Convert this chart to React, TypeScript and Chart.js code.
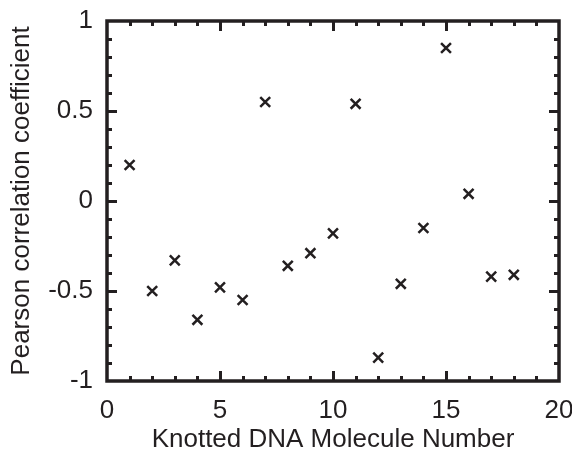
import React, { useEffect, useRef } from "react";
import { Chart, registerables } from "chart.js";

Chart.register(...registerables);

const moleculeNumbers = [1, 2, 3, 4, 5, 6, 7, 8, 9, 10, 11, 12, 13, 14, 15, 16, 17, 18];
const pearsonValues = [0.2, -0.5, -0.33, -0.66, -0.48, -0.55, 0.55, -0.36, -0.29, -0.18, 0.54, -0.87, -0.46, -0.15, 0.85, 0.04, -0.42, -0.41];

const xTitle = "Knotted DNA Molecule Number";
const yTitle = "Pearson correlation coefficient";
const xMinorStep = 1;
const xMajorStep = 5;
const yMinorStep = 0.1;
const yMajorStep = 0.5;

const FONT = "'Liberation Sans', Arial, Helvetica, sans-serif";
const INK = "#231f20";

const framePlugin = {
  id: "frameTicks",
  afterDraw(chart: any) {
    const { ctx, chartArea: a, scales } = chart;
    const xs = scales.x;
    const ys = scales.y;
    ctx.save();
    ctx.strokeStyle = INK;
    ctx.lineWidth = 3;
    ctx.lineCap = "butt";
    ctx.beginPath();
    const nx = Math.round((xs.max - xs.min) / xMinorStep);
    for (let i = 1; i < nx; i++) {
      const v = xs.min + i * xMinorStep;
      const px = Math.round(xs.getPixelForValue(v)) + 0.5;
      const major = Math.abs(v / xMajorStep - Math.round(v / xMajorStep)) < 1e-6;
      const len = major ? 10 : 5;
      ctx.moveTo(px, a.bottom);
      ctx.lineTo(px, a.bottom - len);
      ctx.moveTo(px, a.top);
      ctx.lineTo(px, a.top + len);
    }
    const ny = Math.round((ys.max - ys.min) / yMinorStep);
    for (let i = 1; i < ny; i++) {
      const v = ys.min + i * yMinorStep;
      const py = Math.round(ys.getPixelForValue(v)) + 0.5;
      const major = Math.abs(v / yMajorStep - Math.round(v / yMajorStep)) < 1e-6;
      const len = major ? 10 : 5;
      ctx.moveTo(a.left, py);
      ctx.lineTo(a.left + len, py);
      ctx.moveTo(a.right, py);
      ctx.lineTo(a.right - len, py);
    }
    ctx.stroke();
    ctx.lineWidth = 3.5;
    ctx.strokeRect(a.left, a.top, a.right - a.left, a.bottom - a.top);
    ctx.restore();
  },
};

export default function App() {
  const ref = useRef<HTMLCanvasElement>(null);
  useEffect(() => {
    document.body.style.margin = "0";
    const chart = new Chart(ref.current!, {
      type: "scatter",
      data: {
        datasets: [
          {
            data: moleculeNumbers.map((x, i) => ({ x, y: pearsonValues[i] })),
            pointStyle: "crossRot",
            radius: 7,
            borderWidth: 2.5,
            borderColor: INK,
            backgroundColor: INK,
          },
        ],
      },
      options: {
        responsive: false,
        animation: false,
        devicePixelRatio: 1,
        layout: { autoPadding: false, padding: { top: 21, right: 13, left: 0, bottom: 0 } },
        plugins: { legend: { display: false }, tooltip: { enabled: false } },
        scales: {
          x: {
            type: "linear",
            min: 0,
            max: 20,
            grid: { display: false, drawTicks: false },
            border: { display: false },
            ticks: { stepSize: 5, padding: 14, color: INK, font: { family: FONT, size: 26 } },
            title: { display: true, text: xTitle, color: INK, font: { family: FONT, size: 26 }, padding: { top: 2, bottom: 0 } },
            afterFit: (s: any) => { s.height = 74; s.paddingLeft = 0; s.paddingRight = 0; },
          },
          y: {
            type: "linear",
            min: -1,
            max: 1,
            grid: { display: false, drawTicks: false },
            border: { display: false },
            ticks: { stepSize: 0.5, padding: 14, color: INK, font: { family: FONT, size: 26 }, callback: (v: any) => String(v) },
            title: { display: true, text: yTitle, color: INK, font: { family: FONT, size: 26 }, padding: { top: 6, bottom: 4 } },
            afterFit: (s: any) => { s.width = 107; s.paddingTop = 0; s.paddingBottom = 0; },
          },
        },
      },
      plugins: [framePlugin],
    });
    return () => chart.destroy();
  }, []);
  return <canvas ref={ref} width={572} height={455} style={{ display: "block" }} />;
}
